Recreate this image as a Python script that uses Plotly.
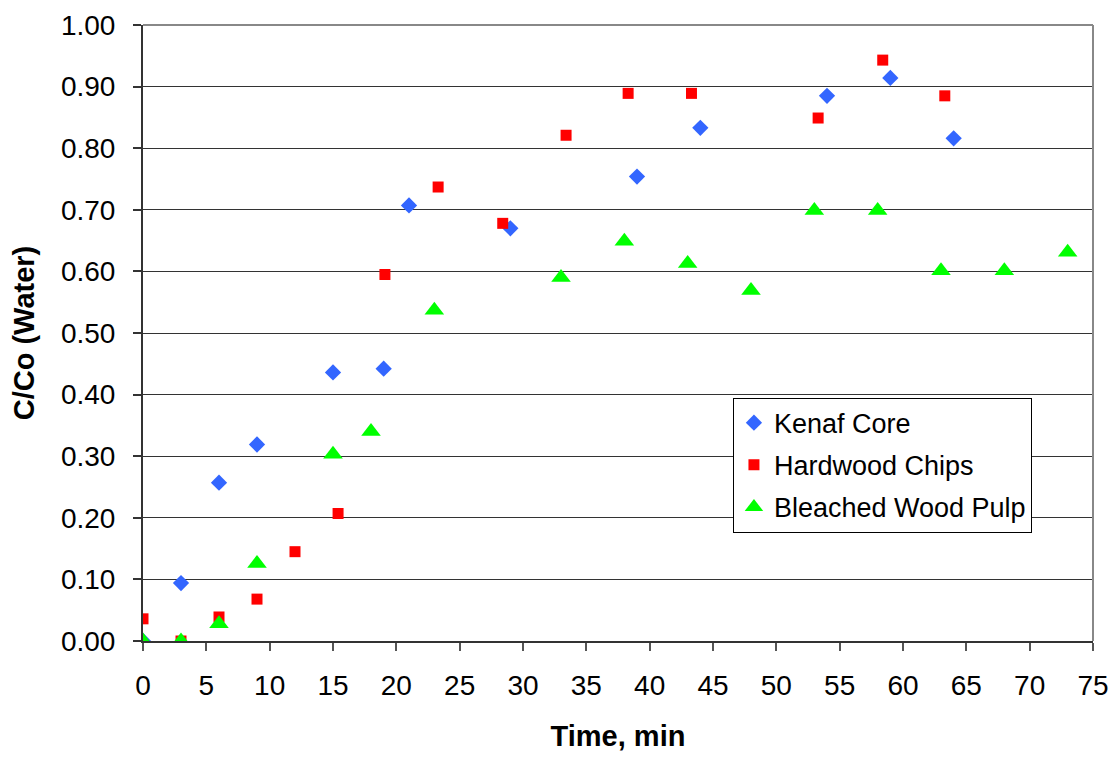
import plotly.graph_objects as go

# Kenaf core
kenaf_t = [0, 3, 6, 9, 15, 19, 21, 29, 39, 44, 54, 59, 64]
kenaf_c = [0.000, 0.094, 0.257, 0.319, 0.436, 0.442, 0.707, 0.670, 0.754, 0.833, 0.885, 0.914, 0.816]

# Hardwood chips
hard_t = [0, 3, 6, 9, 12, 15.4, 19.1, 23.3, 28.4, 33.4, 38.3, 43.3, 53.3, 58.4, 63.3]
hard_c = [0.036, 0.000, 0.039, 0.068, 0.145, 0.207, 0.595, 0.737, 0.678, 0.821, 0.889, 0.889, 0.849, 0.943, 0.885]

# Bleached wood pulp
pulp_t = [0, 3, 6, 9, 15, 18, 23, 33, 38, 43, 48, 53, 58, 63, 68, 73]
pulp_c = [0.000, 0.000, 0.028, 0.126, 0.303, 0.340, 0.537, 0.590, 0.649, 0.613, 0.569, 0.699, 0.699, 0.601, 0.601, 0.631]

x_ticks = list(range(0, 80, 5))
y_ticks = [i / 10 for i in range(0, 11)]

FONT = "Liberation Sans, Arial, sans-serif"

fig = go.Figure()
fig.add_trace(go.Scatter(
    x=kenaf_t, y=kenaf_c, mode="markers", name="Kenaf Core", legendgroup="a",
    marker=dict(symbol="diamond", size=12.5, color="#3366FF", line=dict(width=0)),
))
fig.add_trace(go.Scatter(
    x=hard_t, y=hard_c, mode="markers", name="Hardwood Chips", legendgroup="b",
    marker=dict(symbol="square", size=11, color="#FF0000", line=dict(width=0)),
))
fig.add_trace(go.Scatter(
    x=pulp_t, y=pulp_c, mode="markers", name="Bleached Wood Pulp", legendgroup="c",
    marker=dict(symbol="triangle-up", size=17, color="#00FF00", line=dict(width=0)),
))

fig.update_layout(
    width=1113, height=759,
    margin=dict(l=143, r=20, t=25, b=118, autoexpand=False),
    paper_bgcolor="white", plot_bgcolor="white",
    font=dict(family=FONT, color="black"),
    showlegend=True,
    legend=dict(
        x=0.621, y=0.395, xanchor="left", yanchor="top",
        bgcolor="white", bordercolor="black", borderwidth=1,
        font=dict(size=27, family=FONT, color="black"),
        tracegroupgap=4, traceorder="grouped",
    ),
    xaxis=dict(
        range=[0, 75], tickvals=x_ticks, ticktext=[str(v) for v in x_ticks],
        showgrid=False, zeroline=False, automargin=False,
        showline=True, linecolor="#333333", linewidth=2,
        ticks="outside", ticklen=8, tickwidth=1.5, tickcolor="#555555",
        tickfont=dict(size=28, family=FONT, color="black"),
        ticklabelstandoff=10,
        title=dict(text="<b>Time, min</b>", font=dict(size=29, family=FONT, color="black"), standoff=26),
    ),
    yaxis=dict(
        range=[0, 1.0], tickvals=y_ticks, tickformat=".2f",
        showgrid=True, gridcolor="#333333", gridwidth=1,
        zeroline=False, automargin=False,
        showline=True, linecolor="#333333", linewidth=2,
        ticks="outside", ticklen=8, tickwidth=1.5, tickcolor="#333333",
        tickfont=dict(size=28, family=FONT, color="black"),
        ticklabelstandoff=12,
        title=dict(text="<b>C/Co (Water)</b>", font=dict(size=29, family=FONT, color="black"), standoff=18),
    ),
)

# grey frame along the top and right of the plot area
fig.add_shape(type="line", xref="paper", yref="paper", x0=0, x1=1, y0=1, y1=1,
              line=dict(color="#888888", width=2))
fig.add_shape(type="line", xref="paper", yref="paper", x0=1, x1=1, y0=0, y1=1,
              line=dict(color="#888888", width=2))

fig.write_html("out.html")
